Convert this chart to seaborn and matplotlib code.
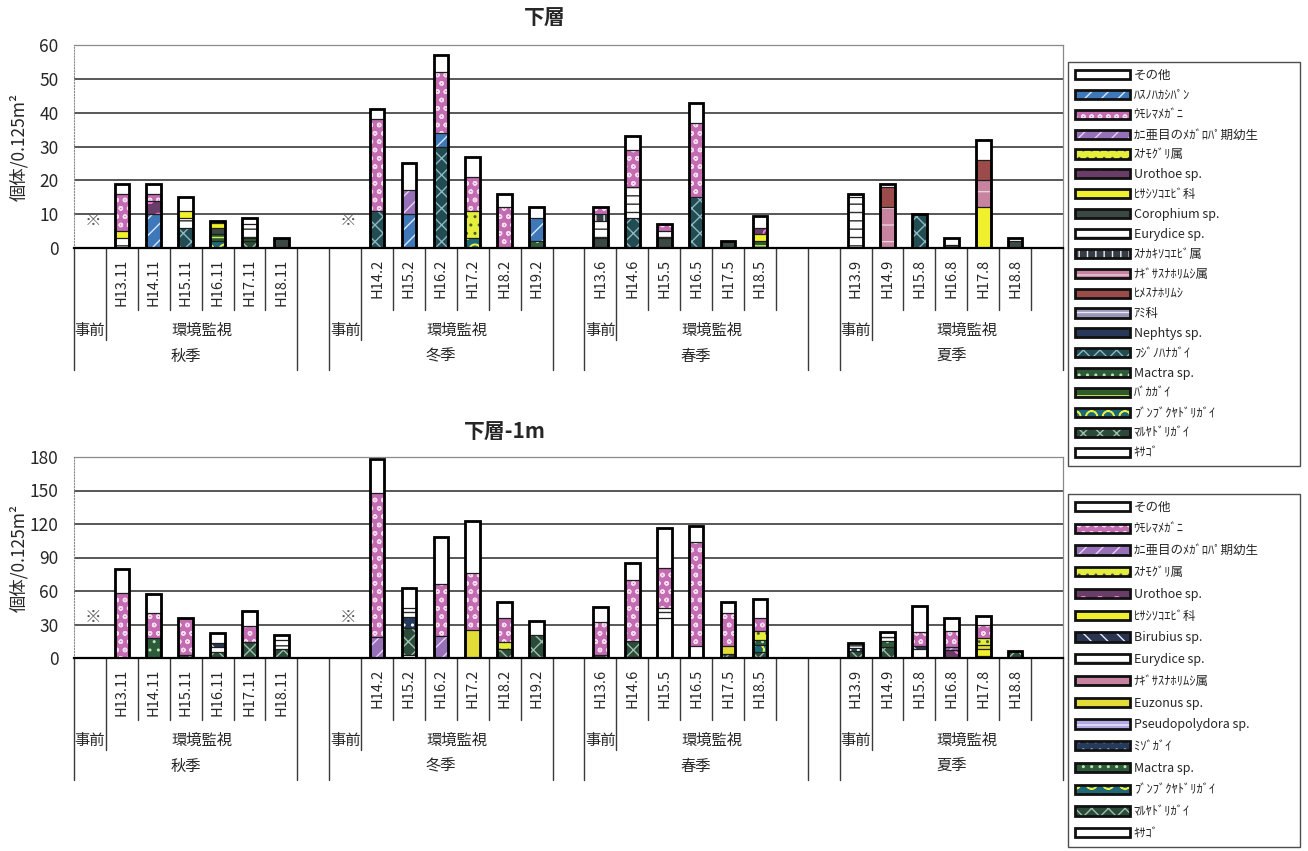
import numpy as np
import matplotlib
matplotlib.use("Agg")
import matplotlib.pyplot as plt
from matplotlib.patches import Patch
from matplotlib.transforms import blended_transform_factory
import seaborn as sns

sns.set_style("white")
plt.rcParams["font.family"] = ["Noto Sans CJK JP", "DejaVu Sans"]
plt.rcParams["hatch.linewidth"] = 1.0

# ---------------------------------------------------------------- data
season_names = ["秋季", "冬季", "春季", "夏季"]
season_pre_has_bar = [False, False, True, True]   # 事前 survey sampled in spring/summer only

period_labels = ["H13.11", "H14.11", "H15.11", "H16.11", "H17.11", "H18.11",
                 "H14.2", "H15.2", "H16.2", "H17.2", "H18.2", "H19.2",
                 "H13.6", "H14.6", "H15.5", "H16.5", "H17.5", "H18.5",
                 "H13.9", "H14.9", "H15.8", "H16.8", "H17.8", "H18.8"]

# 下層 (individuals / 0.125 m2), one value per period
up_sonota      = [3, 3, 4, 0, 2, 0,   3, 8, 5, 6, 4, 3,   0, 4, 0, 6, 0, 3.5,   1, 1, 0, 2, 6, 0]
up_hasunoha    = [0, 10, 0, 0, 0, 0,  0, 10, 4, 0, 0, 7,  0, 0, 0, 0, 0, 0,     0, 0, 0, 0, 0, 0]
up_umore       = [11, 2, 0, 0, 0, 0,  27, 0, 18, 10, 12, 0, 2, 11, 2, 22, 0, 0, 0, 0, 0, 0, 0, 0]
up_kani        = [0, 0, 0, 0, 0, 0,   0, 7, 0, 0, 0, 0,   0, 0, 0, 0, 0, 0,     0, 0, 0, 0, 0, 0]
up_sunamoguri  = [0, 0, 0, 0, 0, 0,   0, 0, 0, 8, 0, 0,   0, 0, 0, 0, 0, 0,     0, 0, 0, 0, 0, 0]
up_urothoe     = [0, 4, 0, 0, 0, 0,   0, 0, 0, 0, 0, 0,   0, 0, 0, 0, 0, 2,     0, 0, 0, 0, 0, 0]
up_hisashi     = [2, 0, 2, 1.5, 0, 0, 0, 0, 0, 0, 0, 0,   0, 0, 0, 0, 0, 2,     0, 0, 0, 0, 12, 0]
up_corophium   = [0, 0, 0, 2, 0, 3,   0, 0, 0, 0, 0, 0,   3, 0, 3, 0, 2, 0,     0, 0, 0, 1, 0, 2]
up_eurydice    = [3, 0, 3, 0, 4, 0,   0, 0, 0, 0, 0, 0,   5, 9, 2, 0, 0, 0,     15, 0, 0, 0, 0, 1]
up_sunakaki    = [0, 0, 0, 0.5, 0, 0, 0, 0, 0, 0, 0, 0,   2, 0, 0, 0, 0, 0,     0, 0, 0, 0, 0, 0]
up_nagisa      = [0, 0, 0, 0, 0, 0,   0, 0, 0, 0, 0, 0,   0, 0, 0, 0, 0, 0,     0, 12, 0, 0, 8, 0]
up_himesuna    = [0, 0, 0, 0, 0, 0,   0, 0, 0, 0, 0, 0,   0, 0, 0, 0, 0, 0,     0, 6, 0, 0, 6, 0]
up_ami         = [0] * 24
up_nephtys     = [0] * 24
up_fujinohana  = [0, 0, 6, 0, 0, 0,   11, 0, 30, 0, 0, 0, 0, 9, 0, 15, 0, 0,    0, 0, 10, 0, 0, 0]
up_mactra      = [0, 0, 0, 0, 0, 0,   0, 0, 0, 0, 0, 2,   0, 0, 0, 0, 0, 0,     0, 0, 0, 0, 0, 0]
up_bakagai     = [0, 0, 0, 2, 1, 0,   0, 0, 0, 0, 0, 0,   0, 0, 0, 0, 0, 2,     0, 0, 0, 0, 0, 0]
up_bunbuku     = [0, 0, 0, 2, 0, 0,   0, 0, 0, 3, 0, 0,   0, 0, 0, 0, 0, 0,     0, 0, 0, 0, 0, 0]
up_maruyadori  = [0, 0, 0, 0, 2, 0,   0, 0, 0, 0, 0, 0,   0, 0, 0, 0, 0, 0,     0, 0, 0, 0, 0, 0]
up_kisago      = [0] * 24

# 下層-1m
lo_sonota      = [22, 17, 0, 9, 13, 5,  30, 18, 42, 47, 14, 12, 14, 15, 35, 14, 10, 17, 0, 4, 24, 12, 8, 0]
lo_umore       = [58, 22, 33, 0, 15, 0, 129, 0, 46, 51, 22, 0, 29, 55, 36, 93, 29, 12, 0, 0, 12, 14, 12, 0]
lo_kani        = [0, 0, 0, 0, 0, 0,   19, 0, 20, 0, 0, 0,  0, 0, 0, 0, 0, 0,     0, 0, 0, 3, 0, 0]
lo_sunamoguri  = [0, 0, 0, 0, 0, 0,   0, 0, 0, 0, 6, 0,    0, 0, 0, 0, 0, 8,     0, 0, 0, 0, 6, 0]
lo_urothoe     = [0, 0, 0, 0, 0, 0,   0, 0, 0, 0, 0, 0,    0, 0, 0, 0, 0, 0,     0, 0, 0, 7, 0, 0]
lo_hisashi     = [0, 0, 0, 0, 0, 0,   0, 0, 0, 0, 0, 0,    0, 0, 0, 0, 0, 0,     0, 0, 0, 0, 6, 0]
lo_birubius    = [0, 0, 0, 3, 0, 0,   0, 0, 0, 0, 0, 0,    0, 0, 0, 0, 0, 0,     0, 0, 3, 0, 0, 0]
lo_eurydice    = [0, 0, 0, 5, 0, 8,   0, 8, 0, 0, 0, 0,    0, 0, 9, 0, 0, 0,     4, 4, 0, 0, 0, 0]
lo_nagisa      = [0] * 24
lo_euzonus     = [0, 0, 0, 0, 0, 0,   0, 0, 0, 25, 0, 0,   0, 0, 0, 0, 7, 0,     0, 0, 0, 0, 4, 0]
lo_pseudopoly  = [0] * 24
lo_mizogai     = [0, 0, 0, 0, 0, 0,   0, 10, 0, 0, 0, 0,   0, 0, 0, 0, 0, 0,     3, 0, 0, 0, 0, 0]
lo_mactra      = [0, 18, 0, 0, 0, 0,  0, 0, 0, 0, 0, 0,    0, 0, 0, 0, 0, 4,     0, 5, 0, 0, 2, 0]
lo_bunbuku     = [0, 0, 0, 0, 0, 0,   0, 0, 0, 0, 0, 0,    0, 0, 0, 0, 0, 7,     0, 0, 0, 0, 0, 0]
lo_maruyadori  = [0, 0, 3, 5, 14, 8,  0, 24, 0, 0, 8, 21,  3, 15, 0, 0, 4, 5,    6, 10, 0, 0, 0, 6]
lo_kisago      = [0, 0, 0, 0, 0, 0,   0, 3, 0, 0, 0, 0,    0, 0, 36, 11, 0, 0,   0, 0, 8, 0, 0, 0]

# ---------------------------------------------------------------- styles
# name -> (face colour, hatch, hatch colour)
STYLE = {
    "その他":              ("white",   None, "white"),
    "ﾊｽﾉﾊｶｼﾊﾟﾝ":           ("#3f78b8", "//", "#d6e8f8"),
    "ｳﾓﾚﾏﾒｶﾞﾆ":            ("#c46cb2", "oo", "#f4dcee"),
    "ｶﾆ亜目のﾒｶﾞﾛﾊﾟ期幼生": ("#9870b8", "//", "#e6d2f2"),
    "ｽﾅﾓｸﾞﾘ属":            ("#e6ee3c", "..", "#4a5a3a"),
    "Urothoe sp.":         ("#6a3c68", "o",  "#f277d4"),
    "ﾋｻｼｿｺｴﾋﾞ科":          ("#f0f02c", None, "#f0f02c"),
    "Corophium sp.":       ("#3b4844", None, "#3b4844"),
    "Eurydice sp.":        ("white",   "--", "#2a2a2a"),
    "ｽﾅｶｷｿｺｴﾋﾞ属":         ("#363c46", "||", "#f0f0f0"),
    "ﾅｷﾞｻｽﾅﾎﾘﾑｼ属":        ("#c7839f", "-",  "#ead0dc"),
    "ﾋﾒｽﾅﾎﾘﾑｼ":            ("#9c4b4b", None, "#9c4b4b"),
    "ｱﾐ科":                ("#9a96b8", "--", "#e8e8f4"),
    "Nephtys sp.":         ("#28385a", "-",  "#ffffff"),
    "ﾌｼﾞﾉﾊﾅｶﾞｲ":           ("#234c52", "xx", "#8cb8c4"),
    "Mactra sp.":          ("#2e5a3c", "..", "#b8e8a8"),
    "ﾊﾞｶｶﾞｲ":              ("#2e5a2e", "--", "#c8f060"),
    "ﾌﾞﾝﾌﾞｸﾔﾄﾞﾘｶﾞｲ":       ("#1f6876", "O",  "#e8f040"),
    "ﾏﾙﾔﾄﾞﾘｶﾞｲ":           ("#2b4a3a", "xx", "#9cc0a8"),
    "ｷｻｺﾞ":                ("white",   None, "white"),
    "Birubius sp.":        ("#2a3552", "\\\\", "#e4ecff"),
    "Euzonus sp.":         ("#e4dc36", None, "#e4dc36"),
    "Pseudopolydora sp.":  ("#b2a8e2", "-",  "#ecebff"),
    "ﾐｿﾞｶﾞｲ":              ("#263a5c", "..", "#ffffff"),
}

# stacking order, bottom -> top
upper_layers = [
    ("ｷｻｺﾞ", up_kisago), ("ﾏﾙﾔﾄﾞﾘｶﾞｲ", up_maruyadori), ("ﾌﾞﾝﾌﾞｸﾔﾄﾞﾘｶﾞｲ", up_bunbuku),
    ("ﾊﾞｶｶﾞｲ", up_bakagai), ("Mactra sp.", up_mactra), ("ﾌｼﾞﾉﾊﾅｶﾞｲ", up_fujinohana),
    ("ﾊｽﾉﾊｶｼﾊﾟﾝ", up_hasunoha), ("Nephtys sp.", up_nephtys), ("Corophium sp.", up_corophium),
    ("Eurydice sp.", up_eurydice), ("ﾋｻｼｿｺｴﾋﾞ科", up_hisashi), ("ｽﾅﾓｸﾞﾘ属", up_sunamoguri),
    ("ｽﾅｶｷｿｺｴﾋﾞ属", up_sunakaki), ("ﾅｷﾞｻｽﾅﾎﾘﾑｼ属", up_nagisa), ("ﾋﾒｽﾅﾎﾘﾑｼ", up_himesuna),
    ("ｱﾐ科", up_ami), ("Urothoe sp.", up_urothoe), ("ｶﾆ亜目のﾒｶﾞﾛﾊﾟ期幼生", up_kani),
    ("ｳﾓﾚﾏﾒｶﾞﾆ", up_umore), ("その他", up_sonota),
]
upper_legend = ["その他", "ﾊｽﾉﾊｶｼﾊﾟﾝ", "ｳﾓﾚﾏﾒｶﾞﾆ", "ｶﾆ亜目のﾒｶﾞﾛﾊﾟ期幼生", "ｽﾅﾓｸﾞﾘ属",
                "Urothoe sp.", "ﾋｻｼｿｺｴﾋﾞ科", "Corophium sp.", "Eurydice sp.", "ｽﾅｶｷｿｺｴﾋﾞ属",
                "ﾅｷﾞｻｽﾅﾎﾘﾑｼ属", "ﾋﾒｽﾅﾎﾘﾑｼ", "ｱﾐ科", "Nephtys sp.", "ﾌｼﾞﾉﾊﾅｶﾞｲ",
                "Mactra sp.", "ﾊﾞｶｶﾞｲ", "ﾌﾞﾝﾌﾞｸﾔﾄﾞﾘｶﾞｲ", "ﾏﾙﾔﾄﾞﾘｶﾞｲ", "ｷｻｺﾞ"]

lower_layers = [
    ("ｷｻｺﾞ", lo_kisago), ("ﾏﾙﾔﾄﾞﾘｶﾞｲ", lo_maruyadori), ("ﾌﾞﾝﾌﾞｸﾔﾄﾞﾘｶﾞｲ", lo_bunbuku),
    ("Mactra sp.", lo_mactra), ("ﾐｿﾞｶﾞｲ", lo_mizogai), ("Eurydice sp.", lo_eurydice),
    ("Birubius sp.", lo_birubius), ("Pseudopolydora sp.", lo_pseudopoly),
    ("ﾋｻｼｿｺｴﾋﾞ科", lo_hisashi), ("Euzonus sp.", lo_euzonus), ("ｽﾅﾓｸﾞﾘ属", lo_sunamoguri),
    ("ﾅｷﾞｻｽﾅﾎﾘﾑｼ属", lo_nagisa), ("Urothoe sp.", lo_urothoe),
    ("ｶﾆ亜目のﾒｶﾞﾛﾊﾟ期幼生", lo_kani), ("ｳﾓﾚﾏﾒｶﾞﾆ", lo_umore), ("その他", lo_sonota),
]
lower_legend = ["その他", "ｳﾓﾚﾏﾒｶﾞﾆ", "ｶﾆ亜目のﾒｶﾞﾛﾊﾟ期幼生", "ｽﾅﾓｸﾞﾘ属", "Urothoe sp.",
                "ﾋｻｼｿｺｴﾋﾞ科", "Birubius sp.", "Eurydice sp.", "ﾅｷﾞｻｽﾅﾎﾘﾑｼ属", "Euzonus sp.",
                "Pseudopolydora sp.", "ﾐｿﾞｶﾞｲ", "Mactra sp.", "ﾌﾞﾝﾌﾞｸﾔﾄﾞﾘｶﾞｲ", "ﾏﾙﾔﾄﾞﾘｶﾞｲ", "ｷｻｺﾞ"]

# ---------------------------------------------------------------- layout
SLOTS = 7          # 事前 + six monitoring years per season
STRIDE = SLOTS + 1  # one empty slot between seasons
season_start = [i * STRIDE for i in range(len(season_names))]
bar_pos = []
for s, pre in zip(season_start, season_pre_has_bar):
    first = s if pre else s + 1
    bar_pos += list(range(first, first + 6))

BAR_W = 0.46
W, H = 1308, 851
fig = plt.figure(figsize=(W / 100, H / 100), dpi=100)
fig.patch.set_facecolor("white")


def bars(ax, heights, **kw):
    sns.barplot(x=bar_pos, y=heights, native_scale=True, width=BAR_W,
                errorbar=None, saturation=1, ax=ax, **kw)
    return ax.containers[-1]


def draw_stack(ax, layers):
    cum = np.zeros(len(bar_pos))
    tops = []
    for name, vals in layers:
        cum = cum + np.asarray(vals, dtype=float)
        tops.append((name, cum.copy()))
    # paint cumulative heights from the top series down
    for name, top in reversed(tops):
        face, hatch, hc = STYLE[name]
        cont = bars(ax, top, color=face)
        for p in cont:
            p.set_facecolor(face)
            p.set_edgecolor(hc)
            p.set_linewidth(0)
            p.set_hatch(hatch)
    # borders between segments
    prev = np.zeros(len(bar_pos))
    for name, top in tops:
        if np.any(top > prev):
            cont = bars(ax, top, color="#1e1e1e", fill=False)
            for p, a, b in zip(cont, top, prev):
                p.set_facecolor("none")
                p.set_edgecolor("#1e1e1e" if a > b else "none")
                p.set_linewidth(0.9)
        prev = top
    cont = bars(ax, tops[-1][1], color="black", fill=False)
    for p in cont:
        p.set_facecolor("none")
        p.set_edgecolor("black")
        p.set_linewidth(2.0)


def style_axes(ax, ymax, step, mark_y):
    ax.set_xlim(-0.5, 30.5)
    ax.set_ylim(0, ymax)
    ax.set_yticks(np.arange(0, ymax + 1, step))
    ax.set_xticks([])
    ax.set_xlabel("")
    ax.set_ylabel("個体/0.125m²", fontsize=12.5)
    ax.yaxis.set_label_coords(-0.046, 0.5)
    ax.yaxis.grid(True, color="#2a2a2a", linewidth=1.1)
    ax.set_axisbelow(True)
    ax.tick_params(axis="y", length=0, pad=11, labelsize=12.5)
    for side in ("top", "right"):
        ax.spines[side].set_color("#8a8a8a")
        ax.spines[side].set_linewidth(0.9)
    ax.spines["left"].set_color("#8a8a8a")
    ax.spines["left"].set_linestyle(":")
    ax.spines["bottom"].set_color("black")
    ax.spines["bottom"].set_linewidth(1.6)
    for s, pre in zip(season_start, season_pre_has_bar):
        if not pre:
            ax.text(s + 0.1, mark_y, "※", ha="center", va="center", fontsize=12, color="#555555")


def category_axis(ax, ax_h_px):
    tr = blended_transform_factory(ax.transData, ax.transAxes)

    def fy(px):
        return -px / ax_h_px

    line_kw = dict(color="#3a3a3a", lw=1.0, transform=tr, clip_on=False)
    for label, x in zip(period_labels, bar_pos):
        ax.text(x, fy(11), label, rotation=90, ha="center", va="top",
                fontsize=10.5, transform=tr)
    for name, s in zip(season_names, season_start):
        for xb in (s - 0.5, s + SLOTS - 0.5):
            ax.plot([xb, xb], [0, fy(122)], **line_kw)
        ax.plot([s + 0.5, s + 0.5], [0, fy(92)], **line_kw)
        for k in range(1, SLOTS - 1):
            ax.plot([s + k + 0.5] * 2, [0, fy(62)], **line_kw)
        ax.text(s, fy(82), "事前", ha="center", va="center", fontsize=11, transform=tr)
        ax.text(s + 3.5, fy(82), "環境監視", ha="center", va="center", fontsize=11, transform=tr)
        ax.text(s + 3, fy(108), name, ha="center", va="center", fontsize=11, transform=tr)


def legend_handles(names):
    hs = []
    for n in names:
        face, hatch, hc = STYLE[n]
        inner = Patch(facecolor=face, hatch=hatch, edgecolor=hc, linewidth=0)
        outer = Patch(facecolor="none", edgecolor="#111111", linewidth=2.0)
        hs.append((inner, outer))
    return hs


L = 74
R = 1063
ax_up = fig.add_axes([L / W, 1 - 248 / H, (R - L) / W, (248 - 45) / H])
ax_lo = fig.add_axes([L / W, 1 - 658 / H, (R - L) / W, (658 - 457) / H])

draw_stack(ax_up, upper_layers)
style_axes(ax_up, 60, 10, 8)
category_axis(ax_up, 248 - 45)

draw_stack(ax_lo, lower_layers)
style_axes(ax_lo, 180, 30, 36)
category_axis(ax_lo, 658 - 457)

fig.text(545 / W, 1 - 18 / H, "下層", ha="center", va="center", fontsize=15, fontweight="bold")
fig.text(505 / W, 1 - 432 / H, "下層-1m", ha="center", va="center", fontsize=15, fontweight="bold")

leg_kw = dict(loc="upper left", mode="expand", frameon=True, fancybox=False,
              fontsize=9, handlelength=4.4, handleheight=0.75, handletextpad=0.3,
              borderaxespad=0, borderpad=0.55)
EPS = 0.001
leg1 = fig.legend(legend_handles(upper_legend), upper_legend,
                  bbox_to_anchor=(1068 / W, 1 - 62 / H - EPS, 232 / W, EPS),
                  labelspacing=0.55, **leg_kw)
leg2 = fig.legend(legend_handles(lower_legend), lower_legend,
                  bbox_to_anchor=(1068 / W, 1 - 494 / H - EPS, 232 / W, EPS),
                  labelspacing=0.7, **leg_kw)
for lg in (leg1, leg2):
    lg.get_frame().set_edgecolor("#222222")
    lg.get_frame().set_linewidth(1.0)

fig.savefig("out.png", dpi=100, facecolor="white")
